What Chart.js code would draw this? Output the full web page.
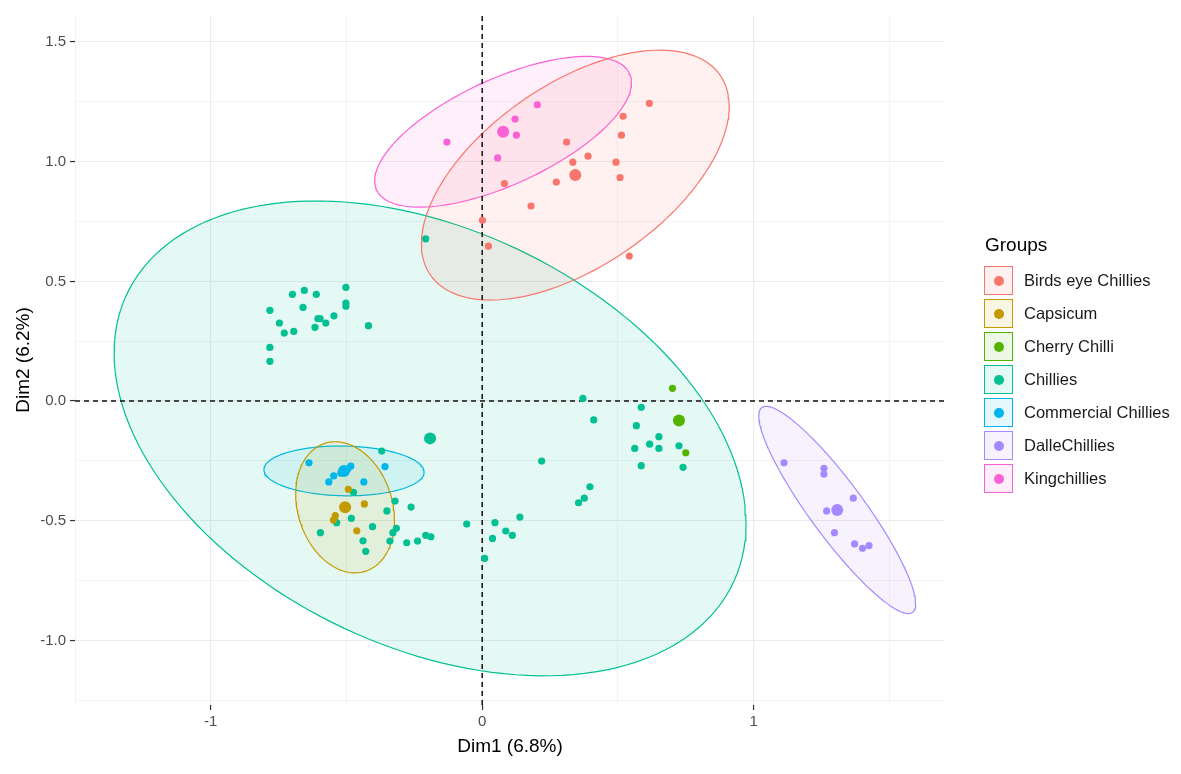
<!DOCTYPE html>
<html>
<head>
<meta charset="utf-8">
<script src="https://cdn.jsdelivr.net/npm/chart.js@4.4.1/dist/chart.umd.min.js"></script>
<style>
  body { margin: 0; background: #fff; font-family: "Liberation Sans", Arial, sans-serif; }
  #wrap { position: relative; width: 1181px; height: 774px; }
  #legend .title { position: absolute; left: 985px; top: 232px; font-size: 19px; line-height: 26px; color: #000; }
  #legend .item { position: absolute; left: 984px; height: 29px; }
  #legend .box { position: absolute; left: 0; top: 0; width: 27px; height: 27px; border: 1px solid; }
  #legend .dot { position: absolute; left: 9px; top: 9px; width: 10px; height: 10px; border-radius: 50%; }
  #legend .label { position: absolute; left: 40px; top: 0; line-height: 29px; font-size: 16.5px; color: #1a1a1a; white-space: nowrap; }
</style>
</head>
<body>
<div id="wrap">
  <canvas id="myChart" width="1181" height="774"></canvas>
  <div id="legend"></div>
</div>
<script>
// groups and their individuals (Dim1, Dim2)
var groups = ['Birds eye Chillies', 'Capsicum', 'Cherry Chilli', 'Chillies', 'Commercial Chillies', 'DalleChillies', 'Kingchillies'];

var birdsDim1 = [0.616, 0.519, 0.513, 0.311, 0.390, 0.334, 0.493, 0.273, 0.508, 0.082, 0.180, 0.001, 0.023, 0.542];
var birdsDim2 = [1.244, 1.190, 1.111, 1.082, 1.023, 0.998, 0.998, 0.915, 0.934, 0.909, 0.815, 0.755, 0.647, 0.606];

var capsicumDim1 = [-0.493, -0.434, -0.541, -0.548, -0.462];
var capsicumDim2 = [-0.369, -0.430, -0.479, -0.497, -0.542];

var cherryDim1 = [0.701, 0.750];
var cherryDim2 = [0.053, -0.216];

var chilliesDim1 = [-0.208, -0.502, -0.655, -0.699, -0.611, -0.502, -0.502, -0.660, -0.782, -0.605,
                    -0.597, -0.546, -0.576, -0.616, -0.747, -0.729, -0.694, -0.419, -0.782, -0.782,
                    -0.370, 0.219, -0.474, -0.321, -0.262, -0.351, -0.482, -0.536, -0.596, -0.404,
                    -0.316, -0.329, -0.439, -0.340, -0.278, -0.238, -0.208, -0.189, -0.429,
                    -0.057, 0.047, 0.087, 0.111, 0.038, 0.139, 0.009,
                    0.371, 0.411, 0.397, 0.376, 0.355,
                    0.586, 0.568, 0.651, 0.617, 0.562, 0.651, 0.725, 0.586, 0.740];
var chilliesDim2 = [0.678, 0.475, 0.462, 0.446, 0.446, 0.409, 0.396, 0.391, 0.379, 0.344,
                    0.344, 0.356, 0.326, 0.308, 0.326, 0.284, 0.291, 0.315, 0.224, 0.166,
                    -0.209, -0.251, -0.381, -0.418, -0.443, -0.459, -0.490, -0.508, -0.550, -0.525,
                    -0.532, -0.550, -0.584, -0.585, -0.592, -0.585, -0.561, -0.567, -0.628,
                    -0.514, -0.508, -0.543, -0.561, -0.574, -0.485, -0.657,
                    0.011, -0.079, -0.358, -0.406, -0.425,
                    -0.026, -0.103, -0.149, -0.180, -0.198, -0.198, -0.187, -0.270, -0.277];

var commercialDim1 = [-0.638, -0.358, -0.547, -0.565, -0.436, -0.521, -0.495, -0.484];
var commercialDim2 = [-0.258, -0.274, -0.313, -0.338, -0.338, -0.301, -0.284, -0.272];

var dalleDim1 = [1.112, 1.259, 1.259, 1.367, 1.269, 1.298, 1.372, 1.401, 1.425];
var dalleDim2 = [-0.258, -0.281, -0.305, -0.406, -0.459, -0.550, -0.597, -0.615, -0.604];

var kingDim1 = [0.203, 0.121, 0.126, -0.130, 0.057];
var kingDim2 = [1.238, 1.178, 1.111, 1.082, 1.016];

// group means (big points, also ellipse centres)
var meanDim1 = [0.343, -0.505, 0.725, -0.192, -0.509, 1.308, 0.077];
var meanDim2 = [0.944, -0.444, -0.081, -0.156, -0.292, -0.455, 1.125];

// confidence ellipses: half width, half height, correlation (null = none drawn)
var ellipseRx  = [0.567, 0.182, null, 1.164, 0.295, 0.289, 0.473];
var ellipseRy  = [0.522, 0.274, null, 0.992, 0.104, 0.433, 0.315];
var ellipseRho = [0.55, -0.20, null, -0.36, -0.05, -0.905, 0.65];

// axes
var xRange = [-1.5, 1.705];
var yRange = [-1.27, 1.613];
var xMajorTicks = [-1, 0, 1];
var xMinorTicks = [-1.5, -0.5, 0.5, 1.5];
var yMajorTicks = [-1, -0.5, 0, 0.5, 1, 1.5];
var yMinorTicks = [-1.25, -0.75, -0.25, 0.25, 0.75, 1.25];

var colorArr = ['#F8766D', '#C49A00', '#53B400', '#00C094', '#00B6EB', '#A58AFF', '#FB61D7'];
var fillArr = colorArr.map(function (c) {
  var n = parseInt(c.slice(1), 16);
  return 'rgba(' + (n >> 16) + ',' + ((n >> 8) & 255) + ',' + (n & 255) + ',0.1)';
});

var groupDim1 = [birdsDim1, capsicumDim1, cherryDim1, chilliesDim1, commercialDim1, dalleDim1, kingDim1];
var groupDim2 = [birdsDim2, capsicumDim2, cherryDim2, chilliesDim2, commercialDim2, dalleDim2, kingDim2];

function toPoints(xs, ys) {
  return xs.map(function (x, i) { return {x: x, y: ys[i]}; });
}

function ellipseOutline(cx, cy, rx, ry, rho) {
  var pts = [];
  var k = Math.sqrt(1 - rho * rho);
  for (var i = 0; i <= 160; i++) {
    var t = i / 160 * 2 * Math.PI;
    pts.push({x: cx + rx * Math.cos(t), y: cy + ry * (rho * Math.cos(t) + k * Math.sin(t))});
  }
  return pts;
}

var datasets = [];

groups.forEach(function (name, g) {
  datasets.push({
    label: name + ' mean',
    data: [{x: meanDim1[g], y: meanDim2[g]}],
    backgroundColor: colorArr[g],
    pointRadius: 6,
    pointBorderWidth: 0,
    order: 0
  });
  datasets.push({
    label: name,
    data: toPoints(groupDim1[g], groupDim2[g]),
    backgroundColor: colorArr[g],
    pointRadius: 3.6,
    pointBorderWidth: 0,
    order: 1
  });
  if (ellipseRx[g] !== null) {
    datasets.push({
      type: 'line',
      label: name + ' ellipse',
      data: ellipseOutline(meanDim1[g], meanDim2[g], ellipseRx[g], ellipseRy[g], ellipseRho[g]),
      borderColor: colorArr[g],
      backgroundColor: fillArr[g],
      borderWidth: 1.2,
      pointRadius: 0,
      tension: 0,
      fill: 'shape',
      order: 3
    });
  }
});

// dashed reference lines at 0
datasets.push({
  type: 'line', label: 'v0',
  data: [{x: 0, y: yRange[0]}, {x: 0, y: yRange[1]}],
  borderColor: '#111', borderWidth: 1.5, borderDash: [5, 4], pointRadius: 0, fill: false, order: 2
});
datasets.push({
  type: 'line', label: 'h0',
  data: [{x: xRange[0], y: 0}, {x: xRange[1], y: 0}],
  borderColor: '#111', borderWidth: 1.5, borderDash: [5, 4], pointRadius: 0, fill: false, order: 2
});

function tickList(major, minor) {
  return major.concat(minor).sort(function (a, b) { return a - b; });
}

var gridOpts = function (major) {
  return {
    color: '#ebebeb',
    lineWidth: function (c) { return major.indexOf(c.tick.value) >= 0 ? 1.1 : 0.6; },
    tickColor: function (c) { return major.indexOf(c.tick.value) >= 0 ? '#333333' : 'rgba(0,0,0,0)'; },
    tickLength: 5,
    tickWidth: 1.2
  };
};

var ctx = document.getElementById('myChart');

var myChart = new Chart(ctx, {
  type: 'scatter',
  data: {datasets: datasets},
  options: {
    responsive: false,
    animation: false,
    events: [],
    layout: {padding: {top: 15, right: 236, bottom: 0, left: 0}},
    plugins: {legend: {display: false}, tooltip: {enabled: false}},
    scales: {
      x: {
        type: 'linear',
        min: xRange[0],
        max: xRange[1],
        afterBuildTicks: function (scale) {
          scale.ticks = tickList(xMajorTicks, xMinorTicks).map(function (v) { return {value: v}; });
        },
        afterFit: function (scale) { scale.height = 69; },
        border: {display: false},
        grid: gridOpts(xMajorTicks),
        ticks: {
          autoSkip: false,
          maxRotation: 0,
          padding: 3,
          color: '#4d4d4d',
          font: {family: '"Liberation Sans", Arial, sans-serif', size: 15},
          callback: function (v) { return xMajorTicks.indexOf(v) >= 0 ? String(v) : ''; }
        },
        title: {
          display: true,
          text: 'Dim1 (6.8%)',
          color: '#000',
          font: {family: '"Liberation Sans", Arial, sans-serif', size: 19},
          padding: {top: 0, bottom: 16}
        }
      },
      y: {
        type: 'linear',
        min: yRange[0],
        max: yRange[1],
        afterBuildTicks: function (scale) {
          scale.ticks = tickList(yMajorTicks, yMinorTicks).map(function (v) { return {value: v}; });
        },
        afterFit: function (scale) { scale.width = 75; },
        border: {display: false},
        grid: gridOpts(yMajorTicks),
        ticks: {
          autoSkip: false,
          padding: 4,
          color: '#4d4d4d',
          font: {family: '"Liberation Sans", Arial, sans-serif', size: 15},
          callback: function (v) { return yMajorTicks.indexOf(v) >= 0 ? v.toFixed(1) : ''; }
        },
        title: {
          display: true,
          text: 'Dim2 (6.2%)',
          color: '#000',
          font: {family: '"Liberation Sans", Arial, sans-serif', size: 19},
          padding: {top: 12, bottom: 0}
        }
      }
    }
  }
});

// legend: coloured key boxes with a dot, like ggplot
var legend = document.getElementById('legend');
var title = document.createElement('div');
title.className = 'title';
title.textContent = 'Groups';
legend.appendChild(title);
groups.forEach(function (name, g) {
  var item = document.createElement('div');
  item.className = 'item';
  item.style.top = (266 + 33 * g) + 'px';
  var box = document.createElement('div');
  box.className = 'box';
  box.style.borderColor = colorArr[g];
  box.style.background = fillArr[g];
  var dot = document.createElement('div');
  dot.className = 'dot';
  dot.style.background = colorArr[g];
  box.appendChild(dot);
  var label = document.createElement('div');
  label.className = 'label';
  label.textContent = name;
  item.appendChild(box);
  item.appendChild(label);
  legend.appendChild(item);
});
</script>
</body>
</html>
